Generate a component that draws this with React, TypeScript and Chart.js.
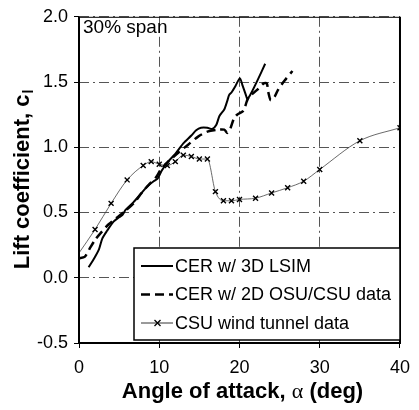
import { useEffect, useRef } from "react";
import { Chart, registerables } from "chart.js";

Chart.register(...registerables);

// Lift coefficient vs. angle of attack at the 30% span station
const lsimAlpha = [1.2, 1.9, 2.5, 2.9, 3.5, 4.3, 4.9, 5.4, 5.8, 6.8, 7.8, 8.5, 9.3, 9.8, 10.3, 11.1, 12.0, 13.0, 14.0, 14.6, 15.2, 16.0, 16.6, 17.1, 17.5, 18.1, 18.5, 18.7, 19.0, 19.5, 20.05, 20.4, 20.8, 21.0, 21.5, 22.3, 23.2];
const lsimCl = [0.08, 0.15, 0.22, 0.30, 0.36, 0.43, 0.46, 0.48, 0.52, 0.58, 0.65, 0.70, 0.74, 0.76, 0.82, 0.89, 0.95, 1.03, 1.09, 1.13, 1.15, 1.15, 1.14, 1.17, 1.24, 1.29, 1.36, 1.40, 1.42, 1.47, 1.53, 1.47, 1.40, 1.37, 1.42, 1.52, 1.64];

const osuAlpha = [0, 0.7, 1.3, 2.0, 2.8, 3.7, 4.7, 5.7, 6.8, 7.8, 8.8, 9.6, 10.2, 11.1, 12.4, 13.6, 14.8, 16.0, 17.3, 18.1, 18.5, 18.9, 19.3, 19.7, 20.5, 20.9, 21.2, 21.6, 22.2, 23.0, 23.4, 23.6, 23.9, 24.4, 24.8, 25.6, 26.6];
const osuCl = [0.15, 0.16, 0.22, 0.29, 0.35, 0.41, 0.46, 0.51, 0.57, 0.65, 0.72, 0.77, 0.83, 0.89, 0.96, 1.02, 1.08, 1.12, 1.135, 1.135, 1.11, 1.15, 1.22, 1.25, 1.28, 1.35, 1.39, 1.41, 1.44, 1.49, 1.49, 1.42, 1.36, 1.39, 1.44, 1.51, 1.585];

const csuAlpha = [0, 2, 4, 6, 8, 9, 10, 11, 12, 13, 14, 15, 16, 17, 18, 19, 20, 22, 24, 26, 28, 30, 35, 40];
const csuCl = [0.19, 0.37, 0.57, 0.75, 0.86, 0.89, 0.87, 0.86, 0.89, 0.94, 0.93, 0.91, 0.91, 0.66, 0.59, 0.59, 0.60, 0.61, 0.65, 0.69, 0.74, 0.83, 1.05, 1.15];

const xTicks = [0, 10, 20, 30, 40];
const yTicks = [-0.5, 0, 0.5, 1.0, 1.5, 2.0];

const seriesLabels = ["CER w/ 3D LSIM", "CER w/ 2D OSU/CSU data", "CSU wind tunnel data"];
const spanLabel = "30% span";
const xTitleParts = ["Angle of attack, ", "\u03b1", " (deg)"];
const yTitleParts = ["Lift coefficient, c", "l"];

const SANS = '"Liberation Sans", Arial, Helvetica, sans-serif';
const SERIF = '"Liberation Serif", "Times New Roman", serif';

const pairs = (xs: number[], ys: number[]) => xs.map((x, i) => ({ x, y: ys[i] }));

const decorPlugin = {
  id: "decor",
  afterDraw(chart: any) {
    const { ctx, chartArea } = chart;
    const { left, right, top, bottom } = chartArea;
    ctx.save();

    // plot frame
    ctx.strokeStyle = "#000";
    ctx.lineWidth = 1;
    ctx.beginPath();
    ctx.moveTo(left, top + 0.5);
    ctx.lineTo(right, top + 0.5);
    ctx.stroke();
    ctx.lineWidth = 2;
    ctx.beginPath();
    ctx.moveTo(left, top);
    ctx.lineTo(left, bottom);
    ctx.lineTo(right, bottom);
    ctx.lineTo(right, top);
    ctx.stroke();

    // station label
    ctx.fillStyle = "#000";
    ctx.font = `19px ${SANS}`;
    ctx.textAlign = "left";
    ctx.textBaseline = "alphabetic";
    ctx.fillText(spanLabel, 83, 33);

    // legend box
    const lx = 134, ly = 248, lw = 266, lh = 92;
    ctx.fillStyle = "#fff";
    ctx.fillRect(lx, ly, lw, lh);
    ctx.strokeStyle = "#000";
    ctx.lineWidth = 1.5;
    ctx.strokeRect(lx, ly, lw, lh);

    const rows = [266, 294.5, 323];
    const ds = chart.data.datasets;
    ctx.font = `18px ${SANS}`;
    ctx.textBaseline = "middle";
    rows.forEach((ry, i) => {
      const d = ds[i];
      ctx.strokeStyle = "#000";
      ctx.lineWidth = d.borderWidth;
      ctx.setLineDash(d.borderDash || []);
      ctx.beginPath();
      ctx.moveTo(141, ry);
      ctx.lineTo(173, ry);
      ctx.stroke();
      ctx.setLineDash([]);
      if (i === 2) {
        ctx.lineWidth = 1.3;
        const cx = 157.5, r = 3;
        ctx.beginPath();
        ctx.moveTo(cx - r, ry - r);
        ctx.lineTo(cx + r, ry + r);
        ctx.moveTo(cx - r, ry + r);
        ctx.lineTo(cx + r, ry - r);
        ctx.stroke();
      }
      ctx.fillStyle = "#000";
      ctx.fillText(d.label, 175, ry + 1);
    });

    // x axis title
    ctx.textBaseline = "alphabetic";
    const boldFont = `bold 22px ${SANS}`;
    const alphaFont = `22px ${SERIF}`;
    ctx.font = boldFont;
    const w0 = ctx.measureText(xTitleParts[0]).width;
    const w2 = ctx.measureText(xTitleParts[2]).width;
    ctx.font = alphaFont;
    const w1 = ctx.measureText(xTitleParts[1]).width;
    let tx = (left + right) / 2 + 3 - (w0 + w1 + w2) / 2;
    const ty = 398;
    ctx.font = boldFont;
    ctx.fillText(xTitleParts[0], tx, ty);
    tx += w0;
    ctx.font = alphaFont;
    ctx.fillText(xTitleParts[1], tx, ty);
    tx += w1;
    ctx.font = boldFont;
    ctx.fillText(xTitleParts[2], tx, ty);

    // y axis title, rotated
    ctx.translate(29, (top + bottom) / 2);
    ctx.rotate(-Math.PI / 2);
    ctx.font = boldFont;
    const m0 = ctx.measureText(yTitleParts[0]).width;
    ctx.font = `bold 14px ${SANS}`;
    const m1 = ctx.measureText(yTitleParts[1]).width;
    let sx = -(m0 + m1) / 2;
    ctx.font = boldFont;
    ctx.fillText(yTitleParts[0], sx, 0);
    sx += m0;
    ctx.font = `bold 14px ${SANS}`;
    ctx.fillText(yTitleParts[1], sx + 1, 4);

    ctx.restore();
  },
};

export default function App() {
  const canvasRef = useRef<HTMLCanvasElement | null>(null);

  useEffect(() => {
    if (!canvasRef.current) return;
    const gridDash = [10, 4, 2, 4];
    const gridOpts = {
      color: "#555",
      lineWidth: 1,
      drawTicks: true,
      tickLength: 5,
      tickColor: "#000",
      tickWidth: 1,
      tickBorderDash: [],
    };
    const chart = new Chart(canvasRef.current, {
      type: "line",
      data: {
        datasets: [
          {
            label: seriesLabels[0],
            data: pairs(lsimAlpha, lsimCl),
            borderColor: "#000",
            borderWidth: 2,
            pointRadius: 0,
            tension: 0.25,
            fill: false,
          },
          {
            label: seriesLabels[1],
            data: pairs(osuAlpha, osuCl),
            borderColor: "#000",
            borderWidth: 2.5,
            borderDash: [9, 5],
            pointRadius: 0,
            tension: 0.25,
            fill: false,
          },
          {
            label: seriesLabels[2],
            data: pairs(csuAlpha, csuCl),
            borderColor: "#444",
            borderWidth: 0.8,
            pointStyle: "crossRot",
            pointRadius: csuAlpha.map((_, i) => (i === 0 ? 0 : 3.5)),
            pointBorderColor: "#000",
            pointBorderWidth: 1.4,
            cubicInterpolationMode: "monotone",
            fill: false,
          },
        ],
      },
      options: {
        animation: false,
        responsive: false,
        devicePixelRatio: 1,
        layout: { padding: { left: 0, right: 14, top: 10, bottom: 0 } },
        plugins: {
          legend: { display: false },
          tooltip: { enabled: false },
        },
        scales: {
          x: {
            type: "linear",
            min: 0,
            max: 40,
            afterBuildTicks: (s: any) => {
              s.ticks = xTicks.map((v) => ({ value: v }));
            },
            afterFit: (s: any) => {
              s.height = 67;
            },
            ticks: {
              font: { size: 18, family: SANS },
              color: "#000",
              padding: 9,
              maxRotation: 0,
              callback: (v: any) => String(v),
            },
            grid: gridOpts,
            border: { display: false, dash: gridDash },
          },
          y: {
            type: "linear",
            min: -0.5,
            max: 2.0,
            afterBuildTicks: (s: any) => {
              s.ticks = yTicks.map((v) => ({ value: v }));
            },
            afterFit: (s: any) => {
              s.width = 79;
            },
            ticks: {
              font: { size: 18, family: SANS },
              color: "#000",
              padding: 6,
              callback: (v: any) => Number(v).toFixed(1),
            },
            grid: gridOpts,
            border: { display: false, dash: gridDash },
          },
        },
      },
      plugins: [decorPlugin],
    } as any);
    return () => chart.destroy();
  }, []);

  return (
    <div style={{ position: "fixed", left: 0, top: 0, width: 419, height: 410, background: "#fff" }}>
      <canvas ref={canvasRef} width={419} height={410} style={{ display: "block" }} />
    </div>
  );
}
